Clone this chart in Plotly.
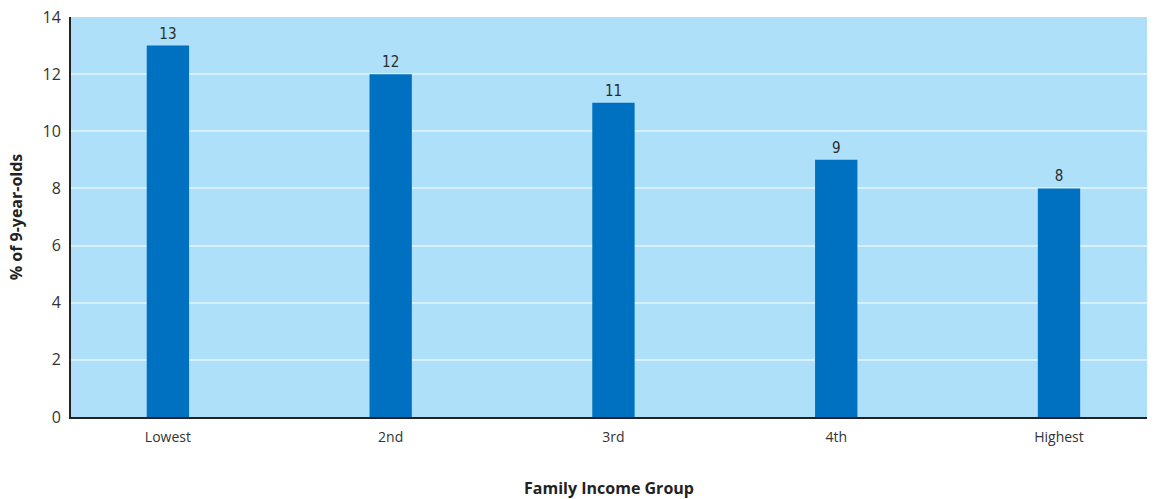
import plotly.graph_objects as go

# Share of 9-year-olds by family income group
groups = ["Lowest", "2nd", "3rd", "4th", "Highest"]
percent = [13, 12, 11, 9, 8]
y_ticks = [0, 2, 4, 6, 8, 10, 12, 14]

fig = go.Figure(
    go.Bar(
        x=groups,
        y=percent,
        width=0.19,
        marker=dict(color="#0070c0", line=dict(width=0)),
        text=[str(v) for v in percent],
        textposition="outside",
        cliponaxis=False,
        textfont=dict(family="DejaVu Sans Condensed, Liberation Sans Narrow, Liberation Sans", size=15, color="#2b2b2b"),
    )
)

fig.update_layout(
    width=1157,
    height=499,
    margin=dict(l=71, r=10, t=17, b=82),
    paper_bgcolor="white",
    plot_bgcolor="#aee0fa",
    showlegend=False,
    font=dict(family="Open Sans, Noto Sans, sans-serif", color="#333333"),
)

fig.update_xaxes(
    type="category",
    range=[-0.435, 4.395],
    automargin=False,
    showgrid=False,
    showline=True,
    linecolor="#222222",
    linewidth=2,
    ticks="",
    ticklabelstandoff=6,
    tickfont=dict(size=14, color="#333333"),
    title=dict(text="<b>Family Income Group</b>", font=dict(size=16, color="#222222"), standoff=46),
)

fig.update_yaxes(
    range=[0, 14],
    tickvals=y_ticks,
    automargin=False,
    showgrid=True,
    gridcolor="#d6f0fd",
    gridwidth=1.5,
    zeroline=False,
    showline=True,
    linecolor="#222222",
    linewidth=2,
    ticks="",
    ticklabelstandoff=5,
    tickfont=dict(size=16, color="#333333"),
    title=dict(text="<b>% of 9-year-olds</b>", font=dict(size=16, color="#222222"), standoff=16),
)

fig.write_html("out.html")
